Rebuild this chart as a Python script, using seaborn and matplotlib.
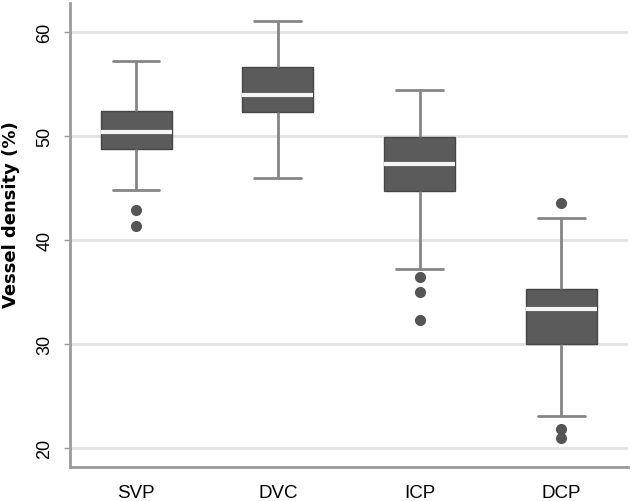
import numpy as np
import pandas as pd
import matplotlib
matplotlib.use("Agg")
import matplotlib.pyplot as plt
import seaborn as sns

categories = ["SVP", "DVC", "ICP", "DCP"]
whisker_low = [44.8, 46.0, 37.2, 23.1]
q1 = [48.75, 52.3, 44.7, 30.0]
median = [50.4, 54.0, 47.3, 33.4]
q3 = [52.4, 56.6, 49.9, 35.3]
whisker_high = [57.2, 61.05, 54.4, 42.1]
outliers_low = [[41.35, 42.9], [], [32.3, 35.0, 36.5], [21.0, 21.8]]
outliers_high = [[], [], [], [43.55]]

# build a small sample per group whose box statistics match the values
m = 5
rows = []
for i, cat in enumerate(categories):
    lo = outliers_low[i] + [whisker_low[i]] * (m - len(outliers_low[i]))
    hi = [whisker_high[i]] * (m - len(outliers_high[i])) + outliers_high[i]
    vals = lo + [q1[i]] * m + [median[i]] + [q3[i]] * m + hi
    rows += [(cat, v) for v in vals]
df = pd.DataFrame(rows, columns=["Layer", "Density"])

sns.set_theme(style="white")
plt.rcParams["font.family"] = ["Liberation Sans", "DejaVu Sans"]

fig = plt.figure(figsize=(6.31, 5.02), dpi=100)
ax = fig.add_axes([0.111, 0.068, 0.884, 0.924])

for y in [20, 30, 40, 50, 60]:
    ax.axhline(y, color="#e2e2e2", linewidth=2, zorder=0)

sns.boxplot(data=df, x="Layer", y="Density", order=categories, ax=ax,
            width=0.5, capwidths=0.33, whis=1.5,
            boxprops=dict(facecolor="#5b5b5b", edgecolor="#454545", linewidth=1),
            medianprops=dict(color="#f4f4f4", linewidth=3),
            whiskerprops=dict(color="#858585", linewidth=2),
            capprops=dict(color="#858585", linewidth=2),
            flierprops=dict(marker="o", markerfacecolor="#555555", markeredgecolor="#555555",
                            markersize=7))

ax.set_xlim(-0.466, 3.47)
ax.set_ylim(18.2, 62.8)
ax.set_yticks([20, 30, 40, 50, 60])
ax.set_xlabel("")
ax.set_ylabel("Vessel density (%)", fontsize=13, fontweight="bold",
              family=["DejaVu Sans"], color="black")
ax.yaxis.set_label_coords(-0.09, 0.545)
ax.tick_params(axis="y", left=True, length=4, width=1, color="#999999",
               labelsize=13, labelcolor="black", pad=8)
ax.tick_params(axis="x", bottom=False, length=0, labelsize=13.5, labelcolor="black", pad=12)
for lab in ax.get_yticklabels():
    lab.set_rotation(90)
    lab.set_va("center")

sns.despine(ax=ax)
for side in ["left", "bottom"]:
    ax.spines[side].set_color("#9a9a9a")
    ax.spines[side].set_linewidth(2)

fig.savefig("out.png", dpi=100)
